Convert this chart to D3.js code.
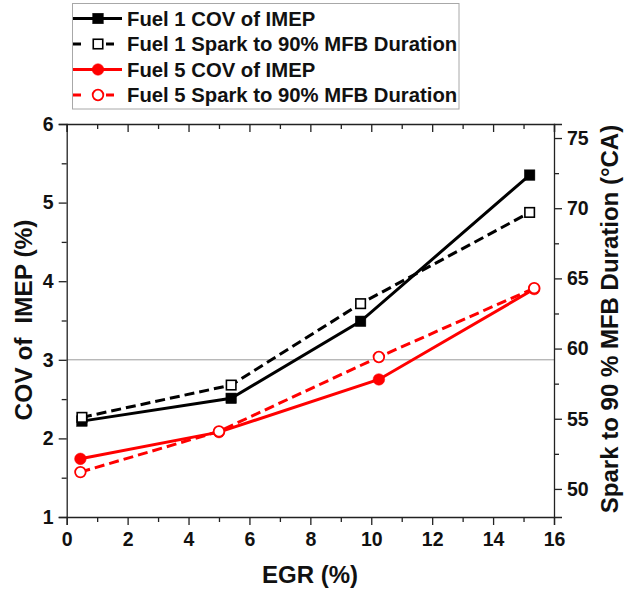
<!DOCTYPE html>
<html>
<head>
<meta charset="utf-8">
<script src="https://cdn.jsdelivr.net/npm/d3@7/dist/d3.min.js"></script>
<style>
  html, body { margin: 0; padding: 0; background: #fff; }
  svg { display: block; }
  text { font-family: "Liberation Sans", Arial, sans-serif; font-weight: bold; fill: #111; }
</style>
</head>
<body>
<div id="chart"></div>
<script>
// EGR sweep (%) for each fuel
const egrFuel1 = [0.5, 5.4, 9.65, 15.2];
const egrFuel5 = [0.45, 5.0, 10.25, 15.35];
// COV of IMEP (%) – left axis
const covFuel1 = [2.22, 2.51, 3.49, 5.35];
const covFuel5 = [1.74, 2.08, 2.75, 3.9];
// Spark to 90% MFB duration (°CA) – right axis
const sparkFuel1 = [55.1, 57.4, 63.2, 69.7];
const sparkFuel5 = [51.2, 54.1, 59.4, 64.3];

const xTicks = [0, 2, 4, 6, 8, 10, 12, 14, 16];
const leftTicks = [1, 2, 3, 4, 5, 6];
const rightTicks = [50, 55, 60, 65, 70, 75];
const legendLabels = [
  "Fuel 1 COV of IMEP",
  "Fuel 1 Spark to 90% MFB Duration",
  "Fuel 5 COV of IMEP",
  "Fuel 5 Spark to 90% MFB Duration"
];

const W = 635, H = 596;
const plot = { left: 66.7, right: 554, top: 124, bottom: 517 };

const svg = d3.select("#chart").append("svg").attr("width", W).attr("height", H);

const x = d3.scaleLinear().domain([0, 16]).range([plot.left, plot.right]);
const yL = d3.scaleLinear().domain([1, 6]).range([plot.bottom, plot.top]);
const yR = d3.scaleLinear().domain([48, 76]).range([plot.bottom, plot.top]);

// reference line at COV = 3 %
svg.append("line")
  .attr("x1", plot.left).attr("x2", plot.right)
  .attr("y1", yL(3)).attr("y2", yL(3))
  .attr("stroke", "#9a9a9a").attr("stroke-width", 1);

function styleAxis(g) {
  g.select(".domain").attr("stroke", "#222").attr("stroke-width", 1.3);
  g.selectAll(".tick line").attr("stroke", "#222").attr("stroke-width", 1.3);
  g.selectAll("text").style("font-size", "19.5px").attr("fill", "#111");
}

const xMinor = d3.range(1, 16, 2);
const yLMinor = d3.range(1.5, 6, 1);
const yRMinor = d3.range(52.5, 76, 5);

// bottom axis
svg.append("g").attr("transform", `translate(0,${plot.bottom})`)
  .call(d3.axisBottom(x).tickValues(xTicks).tickSize(8).tickPadding(7).tickFormat(d3.format("d")))
  .call(styleAxis);
svg.append("g").attr("transform", `translate(0,${plot.bottom})`)
  .call(d3.axisBottom(x).tickValues(xMinor).tickSize(5).tickFormat(""))
  .call(styleAxis).select(".domain").remove();
// top mirror axis (ticks inward)
svg.append("g").attr("transform", `translate(0,${plot.top})`)
  .call(d3.axisBottom(x).tickValues(xTicks).tickSize(8).tickFormat(""))
  .call(styleAxis);
svg.append("g").attr("transform", `translate(0,${plot.top})`)
  .call(d3.axisBottom(x).tickValues(xMinor).tickSize(5).tickFormat(""))
  .call(styleAxis).select(".domain").remove();

// left axis
svg.append("g").attr("transform", `translate(${plot.left},0)`)
  .call(d3.axisLeft(yL).tickValues(leftTicks).tickSize(8).tickPadding(5).tickFormat(d3.format("d")))
  .call(styleAxis);
svg.append("g").attr("transform", `translate(${plot.left},0)`)
  .call(d3.axisLeft(yL).tickValues(yLMinor).tickSize(5).tickFormat(""))
  .call(styleAxis).select(".domain").remove();

// right axis
svg.append("g").attr("transform", `translate(${plot.right},0)`)
  .call(d3.axisRight(yR).tickValues(rightTicks).tickSize(8).tickPadding(5).tickFormat(d3.format("d")))
  .call(styleAxis);
svg.append("g").attr("transform", `translate(${plot.right},0)`)
  .call(d3.axisRight(yR).tickValues(yRMinor).tickSize(5).tickFormat(""))
  .call(styleAxis).select(".domain").remove();

// axis titles
svg.append("text").attr("x", 310).attr("y", 583).attr("text-anchor", "middle")
  .style("font-size", "24px").text("EGR (%)");
svg.append("text").attr("transform", `translate(32,320) rotate(-90)`)
  .attr("text-anchor", "middle").style("font-size", "24.5px").style("white-space", "pre")
  .attr("xml:space", "preserve").text("COV of  IMEP (%)");
svg.append("text").attr("transform", `translate(618,319) rotate(-90)`)
  .attr("text-anchor", "middle").style("font-size", "24px").text("Spark to 90 % MFB Duration (°CA)");

// series
const series = [
  { xs: egrFuel1, ys: covFuel1, scale: yL, color: "#000", dash: null, marker: "square", filled: true },
  { xs: egrFuel1, ys: sparkFuel1, scale: yR, color: "#000", dash: "10,5", marker: "square", filled: false },
  { xs: egrFuel5, ys: covFuel5, scale: yL, color: "#f00", dash: null, marker: "circle", filled: true },
  { xs: egrFuel5, ys: sparkFuel5, scale: yR, color: "#f00", dash: "10,5", marker: "circle", filled: false }
];

function drawMarker(g, s, cx, cy) {
  if (s.marker === "square") {
    const a = s.filled ? 10.5 : 9.5;
    g.append("rect").attr("x", cx - a / 2).attr("y", cy - a / 2).attr("width", a).attr("height", a)
      .attr("fill", s.filled ? s.color : "#fff")
      .attr("stroke", s.color).attr("stroke-width", s.filled ? 0.5 : 1.6);
  } else {
    g.append("circle").attr("cx", cx).attr("cy", cy).attr("r", s.filled ? 5.8 : 5.3)
      .attr("fill", s.filled ? s.color : "#fff")
      .attr("stroke", s.color).attr("stroke-width", s.filled ? 0.5 : 1.8);
  }
}

series.forEach(s => {
  const pts = s.xs.map((v, i) => [x(v), s.scale(s.ys[i])]);
  const g = svg.append("g");
  g.append("path").attr("d", d3.line()(pts))
    .attr("fill", "none").attr("stroke", s.color).attr("stroke-width", 3)
    .attr("stroke-dasharray", s.dash);
  pts.forEach(p => drawMarker(g, s, p[0], p[1]));
});

// legend
const lg = svg.append("g");
lg.append("rect").attr("x", 72.5).attr("y", 3.5).attr("width", 386.5).attr("height", 105.5)
  .attr("fill", "#fff").attr("stroke", "#a8a8a8").attr("stroke-width", 1);
const rowY = [18.5, 44, 69.5, 95];
series.forEach((s, i) => {
  const y = rowY[i];
  if (s.dash) {
    lg.append("line").attr("x1", 73).attr("x2", 81).attr("y1", y).attr("y2", y)
      .attr("stroke", s.color).attr("stroke-width", 3);
    lg.append("line").attr("x1", 106).attr("x2", 114).attr("y1", y).attr("y2", y)
      .attr("stroke", s.color).attr("stroke-width", 3);
  } else {
    lg.append("line").attr("x1", 73).attr("x2", 122).attr("y1", y).attr("y2", y)
      .attr("stroke", s.color).attr("stroke-width", 3);
  }
  drawMarker(lg, s, 98, y);
  lg.append("text").attr("x", 127).attr("y", y + 7).style("font-size", "20.3px").text(legendLabels[i]);
});
</script>
</body>
</html>
